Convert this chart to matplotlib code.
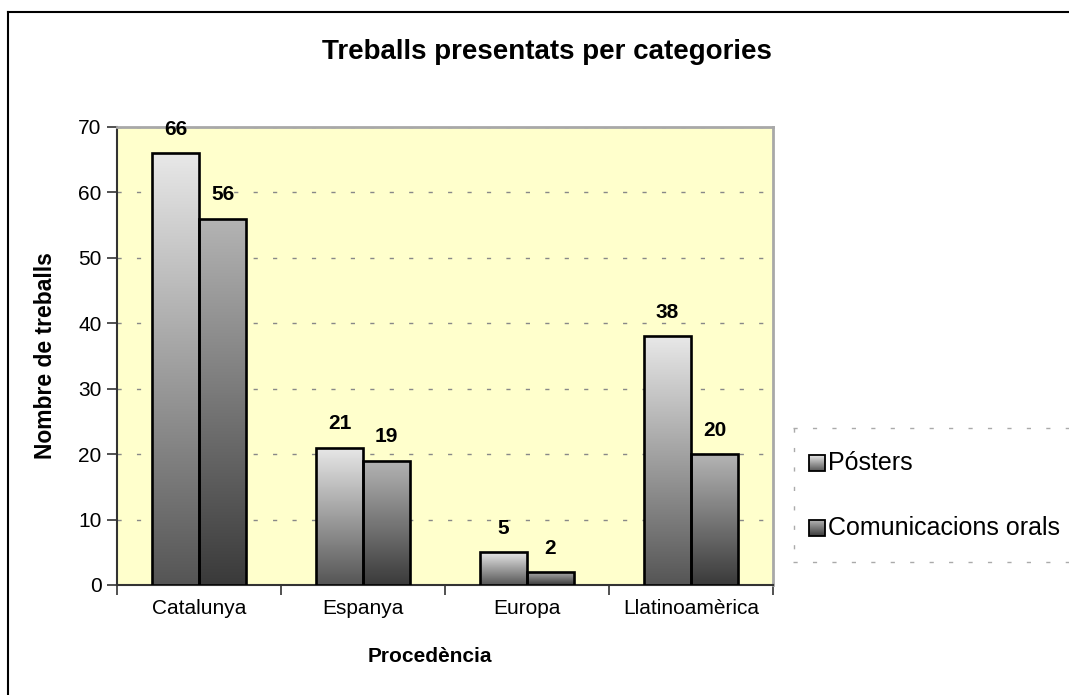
import matplotlib
matplotlib.use("Agg")
import matplotlib.pyplot as plt
import numpy as np
from matplotlib.patches import Rectangle
from matplotlib.lines import Line2D

categories = ["Catalunya", "Espanya", "Europa", "Llatinoamèrica"]
series_names = ["Pósters", "Comunicacions orals"]
posters = [66, 21, 5, 38]
orals = [56, 19, 2, 20]
yticks = [0, 10, 20, 30, 40, 50, 60, 70]
title = "Treballs presentats per categories"
xlabel = "Procedència"
ylabel = "Nombre de treballs"

plt.rcParams['font.family'] = ['Liberation Sans', 'DejaVu Sans']

W, H = 1069, 695
fig = plt.figure(figsize=(W / 100, H / 100), dpi=100)
fig.patch.set_facecolor("white")

ax = fig.add_axes([117 / W, 1 - 585 / H, (773 - 117) / W, (585 - 127) / H])
ax.set_facecolor("#FFFFCC")

grads = [("#e8e8e8", "#555555"), ("#b4b4b4", "#3a3a3a")]


def gradient_img(top, bottom, n=256):
    t = np.array(matplotlib.colors.to_rgb(top))
    b = np.array(matplotlib.colors.to_rgb(bottom))
    f = np.linspace(0, 1, n)[:, None]
    return (t * (1 - f) + b * f)[:, None, :]


bw = 0.287
x = np.arange(len(categories)) + 0.5
for si, vals in enumerate([posters, orals]):
    offs = -bw / 2 if si == 0 else bw / 2
    bars = ax.bar(x + offs, vals, width=bw, facecolor="none", edgecolor="black",
                  linewidth=1.9, zorder=4)
    for rect, v in zip(bars, vals):
        x0 = rect.get_x()
        im = ax.imshow(gradient_img(*grads[si]), extent=[x0, x0 + bw, 0, v],
                       aspect="auto", origin="upper", zorder=3, interpolation="bilinear")
        im.set_clip_path(rect)
        ax.text(x0 + bw / 2, v + 2.2, str(v), ha="center", va="bottom",
                fontsize=15, fontweight="bold", zorder=5)

ax.set_aspect("auto")
ax.set_xlim(0, len(categories))
ax.set_ylim(0, 70)

ax.set_yticks(yticks)
ax.yaxis.grid(True, color="#888888", linestyle=(0, (3, 11)), linewidth=1.0, zorder=1)
ax.set_axisbelow(True)
ax.set_xticks(np.arange(len(categories) + 1))
ax.set_xticklabels([])
ax.set_xticks(x, minor=True)
ax.set_xticklabels(categories, minor=True, fontsize=15)
ax.tick_params(axis="x", which="minor", length=0, pad=10)
ax.tick_params(axis="x", which="major", length=7, width=1.2, color="#333333", direction="out")
ax.tick_params(axis="y", length=7, width=1.2, color="#333333", direction="out", labelsize=15, pad=4)

for s in ["top", "right"]:
    ax.spines[s].set_color("#a8a8a8")
    ax.spines[s].set_linewidth(2)
for s in ["left", "bottom"]:
    ax.spines[s].set_color("#333333")
    ax.spines[s].set_linewidth(1.5)

fig.text(547 / W, 1 - 52 / H, title, ha="center", va="center",
         fontsize=20, fontweight="bold")
fig.text(430 / W, 1 - 657 / H, xlabel, ha="center", va="center", fontsize=15, fontweight="bold")
fig.text(46 / W, 1 - 356 / H, ylabel, ha="center", va="center", fontsize=16.5,
         fontweight="bold", rotation=90)

# outer border (left and top)
fig.add_artist(Line2D([8 / W, 8 / W], [0, 1 - 12 / H], transform=fig.transFigure,
                      color="black", linewidth=1.5))
fig.add_artist(Line2D([8 / W, 1], [1 - 12 / H, 1 - 12 / H], transform=fig.transFigure,
                      color="black", linewidth=1.5))

# legend
lg = fig.add_axes([793 / W, 1 - 562 / H, (W - 793) / W, (562 - 428) / H])
lg.axis("off")
for yy in [0, 562 - 428]:
    lg.plot([0, W - 793], [yy, yy], color="#aaaaaa", linestyle=(0, (3, 11)), linewidth=1.0,
            clip_on=False)
lg.plot([1, 1], [0, 562 - 428], color="#aaaaaa", linestyle=(0, (3, 11)), linewidth=1.0,
        clip_on=False)
for i, name in enumerate(series_names):
    cy = 463 - 428 + i * 65
    lg.imshow(gradient_img(*grads[i]), extent=[16, 32, cy + 8, cy - 8], aspect="auto",
              origin="upper", interpolation="bilinear")
    lg.add_patch(Rectangle((16, cy - 8), 16, 16, fill=False, edgecolor="black", linewidth=1.3))
    lg.text(35, cy, name, ha="left", va="center", fontsize=18)
lg.set_xlim(0, W - 793)
lg.set_ylim(562 - 428, 0)

fig.savefig("out.png", dpi=100)
